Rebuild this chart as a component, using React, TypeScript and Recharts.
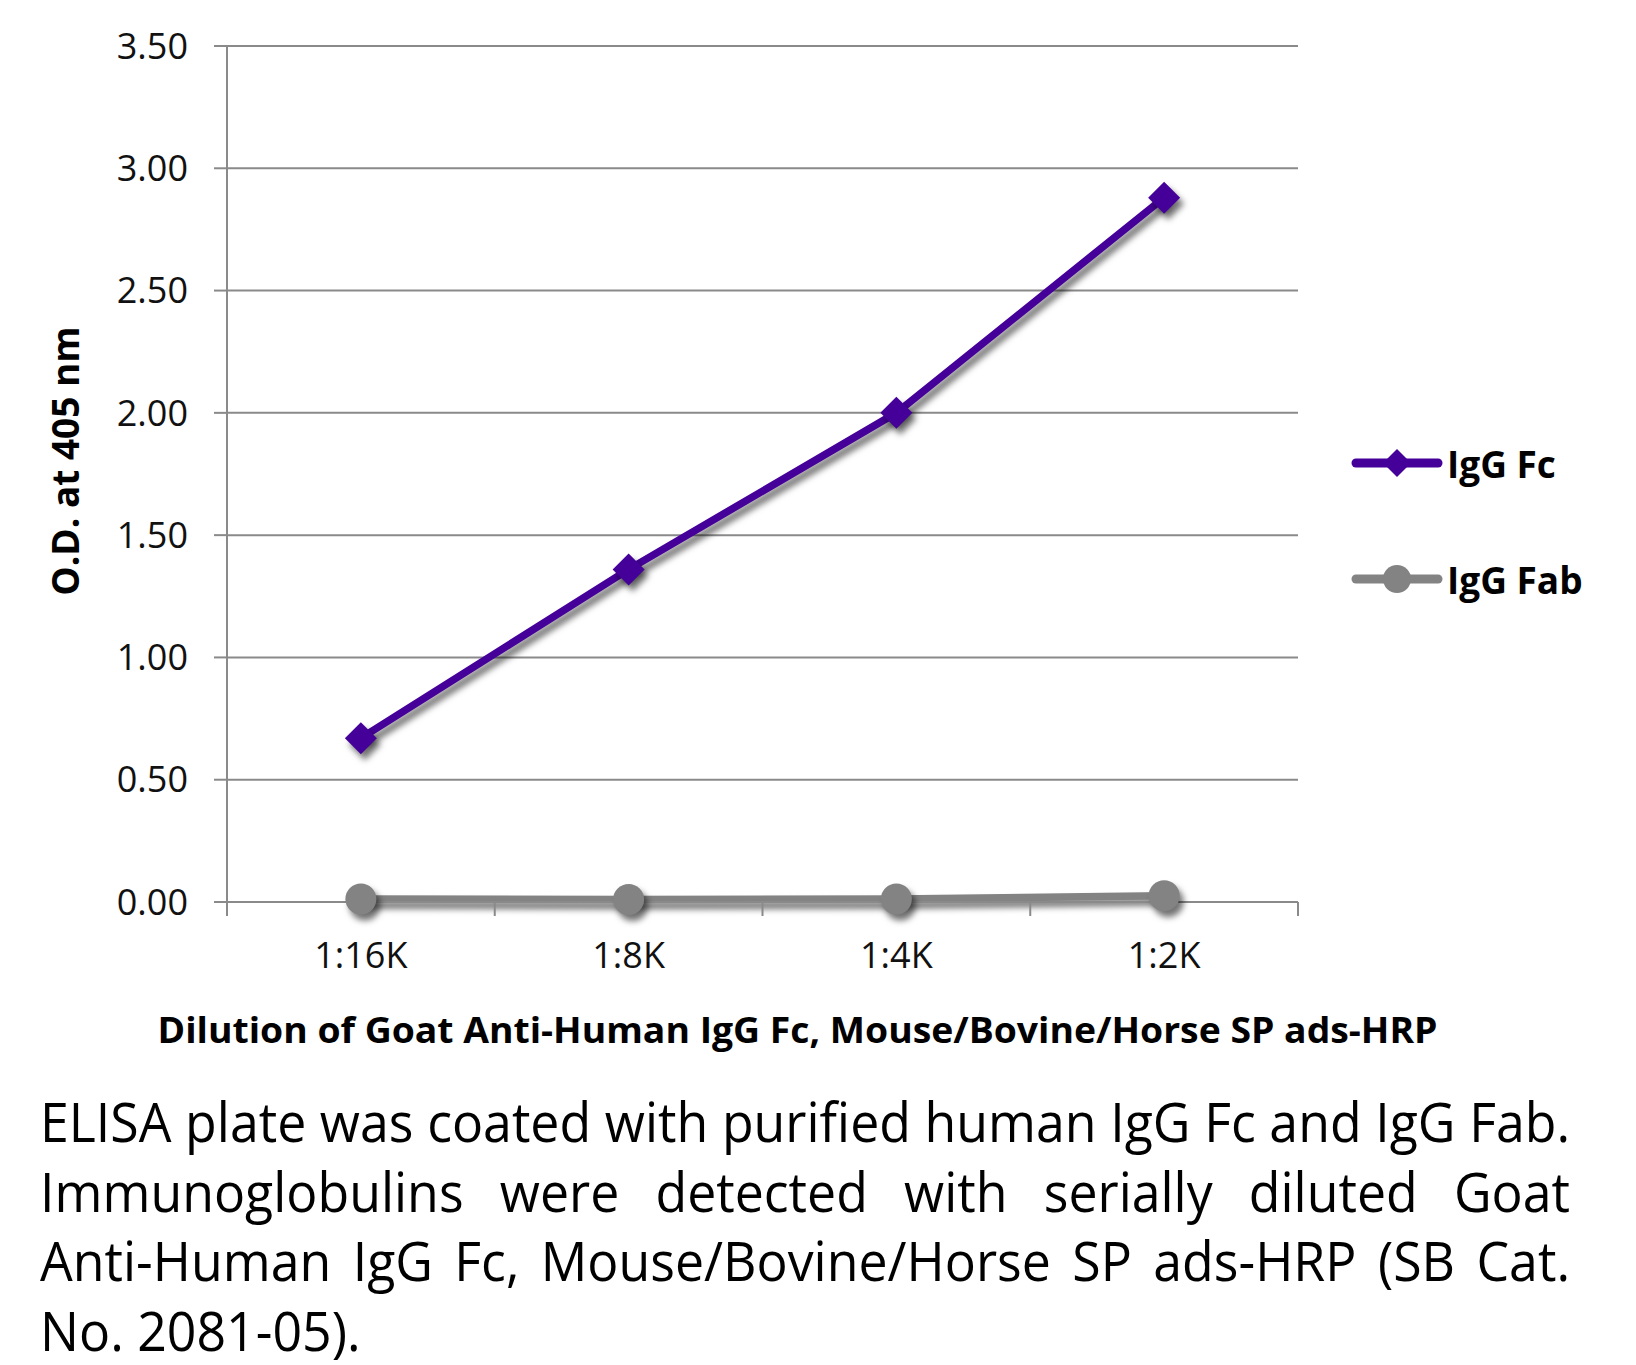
import React, { useLayoutEffect, useRef, useState } from 'react';
import { LineChart, Line, XAxis, YAxis, CartesianGrid } from 'recharts';

// ---------- data ----------
const dilutions = ['1:16K', '1:8K', '1:4K', '1:2K'];
const igGFc = [0.67, 1.36, 2.0, 2.88];
const igGFab = [0.012, 0.01, 0.012, 0.026];
const yTicks = [0, 0.5, 1, 1.5, 2, 2.5, 3, 3.5];
const seriesNames = ['IgG Fc', 'IgG Fab'];
const xAxisTitle = 'Dilution of Goat Anti-Human IgG Fc, Mouse/Bovine/Horse SP ads-HRP';
const yAxisTitle = 'O.D. at 405 nm';
const captionLines = [
  'ELISA plate was coated with purified human IgG Fc and IgG Fab.',
  'Immunoglobulins were detected with serially diluted Goat',
  'Anti-Human IgG Fc, Mouse/Bovine/Horse SP ads-HRP (SB Cat.',
  'No. 2081-05).',
];

const data = dilutions.map((d, i) => ({ dilution: d, fc: igGFc[i], fab: igGFab[i] }));

// ---------- styles ----------
const FC_COLOR = '#45009a';
const FAB_COLOR = '#838383';
const GRID = '#8a8a8a';
const FONT = '"Open Sans", "Noto Sans", sans-serif';
const CAPTION_WIDTH = 1530;

const Diamond = (props: any) => {
  const { cx, cy } = props;
  if (cx == null || cy == null) return null;
  const r = 16;
  return (
    <polygon
      points={`${cx},${cy - r} ${cx + r},${cy} ${cx},${cy + r} ${cx - r},${cy}`}
      fill={FC_COLOR}
    />
  );
};

const XTick = (props: any) => {
  const { x, y, payload, index } = props;
  const half = payload && payload.offset ? payload.offset : 0;
  const last = index === dilutions.length - 1;
  return (
    <g>
      <line x1={x - half} x2={x - half} y1={y} y2={y + 14} stroke={GRID} strokeWidth={2} />
      {last && <line x1={x + half} x2={x + half} y1={y} y2={y + 14} stroke={GRID} strokeWidth={2} />}
      <text x={x} y={y + 40} dy="0.71em" textAnchor="middle" fontFamily={FONT} fontSize={36} fill="#111">
        {payload.value}
      </text>
    </g>
  );
};

const XTitle = (props: any) => {
  const vb = props.viewBox || { x: 0, y: 0, width: 0, height: 0 };
  return (
    <text
      x={vb.x + vb.width / 2 + 35}
      y={vb.y + 141}
      textAnchor="middle"
      fontFamily={FONT}
      fontWeight={700}
      fontSize={36}
      fill="#000"
      textLength={1280}
      lengthAdjust="spacingAndGlyphs"
    >
      {xAxisTitle}
    </text>
  );
};

const YTitle = (props: any) => {
  const vb = props.viewBox || { x: 0, y: 0, width: 0, height: 0 };
  const cx = vb.x + 79;
  const cy = vb.y + vb.height / 2 - 13;
  return (
    <text
      x={cx}
      y={cy}
      transform={`rotate(-90, ${cx}, ${cy})`}
      textAnchor="middle"
      fontFamily={FONT}
      fontWeight={700}
      fontSize={37}
      fill="#000"
    >
      {yAxisTitle}
    </text>
  );
};

const LegendRow = ({ name, color, shape, top }: any) => (
  <div style={{ position: 'absolute', left: 1351, top, height: 40, display: 'flex', alignItems: 'center' }}>
    <svg width={92} height={40} style={{ display: 'block' }}>
      <line x1={5} x2={87} y1={20} y2={20} stroke={color} strokeWidth={9} strokeLinecap="round" />
      {shape === 'diamond' ? (
        <polygon points="46,6 60,20 46,34 32,20" fill={color} />
      ) : (
        <circle cx={46} cy={20} r={14} fill={color} />
      )}
    </svg>
    <span style={{ marginLeft: 4, fontFamily: FONT, fontWeight: 700, fontSize: 37, color: '#000', whiteSpace: 'nowrap' }}>
      {name}
    </span>
  </div>
);

const Caption = () => {
  const measureRef = useRef<HTMLSpanElement>(null);
  const [scale, setScale] = useState(0.85);
  useLayoutEffect(() => {
    const measure = () => {
      if (measureRef.current) {
        const w = measureRef.current.getBoundingClientRect().width;
        if (w > 0) setScale(CAPTION_WIDTH / (w + 2));
      }
    };
    measure();
    if ((document as any).fonts && (document as any).fonts.ready) {
      (document as any).fonts.ready.then(measure);
    }
  }, []);
  const common: React.CSSProperties = { fontFamily: FONT, fontSize: 54, lineHeight: '69.6px', color: '#000' };
  return (
    <>
      <span
        ref={measureRef}
        style={{ ...common, position: 'absolute', left: 0, top: 0, visibility: 'hidden', whiteSpace: 'nowrap' }}
      >
        {captionLines[0]}
      </span>
      <div
        style={{
          ...common,
          position: 'absolute',
          left: 40,
          top: 1087,
          width: CAPTION_WIDTH / scale,
          transform: `scaleX(${scale})`,
          transformOrigin: 'left top',
        }}
      >
        {captionLines.map((line, i) => (
          <div
            key={i}
            style={{
              textAlign: 'justify',
              textAlignLast: i < captionLines.length - 1 ? 'justify' : 'left',
              height: i < captionLines.length - 1 ? undefined : 66,
            }}
          >
            {line}
          </div>
        ))}
      </div>
    </>
  );
};

export default function App() {
  return (
    <div style={{ position: 'relative', width: 1636, height: 1365, background: '#fff' }}>
      <style>{`
        body { margin: 0; }
        .recharts-line-curve, .recharts-line-dots { filter: drop-shadow(4px 6px 3px rgba(0,0,0,0.55)); }
      `}</style>
      <div style={{ position: 'absolute', left: 0, top: 0 }}>
        <LineChart width={1636} height={1070} data={data} margin={{ top: 46, right: 338, left: 0, bottom: 0 }}>
          <CartesianGrid horizontal vertical={false} stroke={GRID} strokeWidth={2} />
          <XAxis
            dataKey="dilution"
            type="category"
            scale="band"
            interval={0}
            height={168}
            tickSize={0}
            tickMargin={0}
            tickLine={false}
            axisLine={{ stroke: GRID, strokeWidth: 2 }}
            tick={<XTick />}
            label={<XTitle />}
          />
          <YAxis
            type="number"
            domain={[0, 3.5]}
            ticks={yTicks}
            width={227}
            tickSize={13}
            tickMargin={26}
            tickLine={{ stroke: GRID, strokeWidth: 2 }}
            axisLine={{ stroke: GRID, strokeWidth: 2 }}
            tickFormatter={(v: number) => v.toFixed(2)}
            tick={{ fontFamily: FONT, fontSize: 36, fill: '#111' }}
            label={<YTitle />}
          />
          <Line
            type="linear"
            dataKey="fc"
            name={seriesNames[0]}
            stroke={FC_COLOR}
            strokeWidth={7.5}
            dot={(p: any) => <Diamond key={`fc-${p.index}`} {...p} />}
            activeDot={false}
            isAnimationActive={false}
          />
          <Line
            type="linear"
            dataKey="fab"
            name={seriesNames[1]}
            stroke={FAB_COLOR}
            strokeWidth={7.5}
            dot={{ r: 15.5, fill: FAB_COLOR, stroke: FAB_COLOR, strokeWidth: 0 }}
            activeDot={false}
            isAnimationActive={false}
          />
        </LineChart>
      </div>
      <LegendRow name={seriesNames[0]} color={FC_COLOR} shape="diamond" top={443} />
      <LegendRow name={seriesNames[1]} color={FAB_COLOR} shape="circle" top={559} />
      <Caption />
    </div>
  );
}
